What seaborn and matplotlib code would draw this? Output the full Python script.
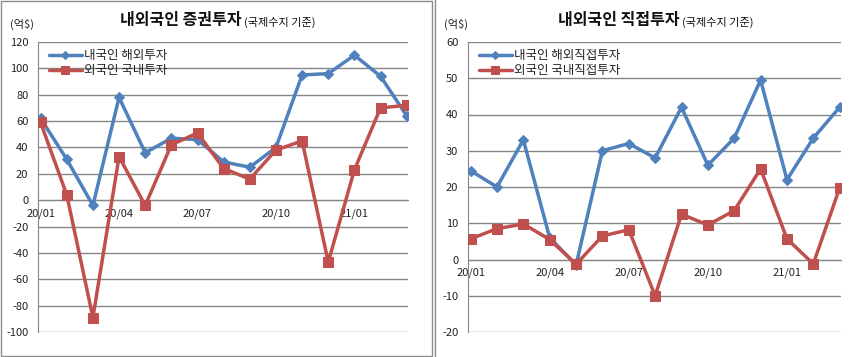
import seaborn as sns
import numpy as np
import matplotlib.pyplot as plt
from matplotlib.lines import Line2D
from matplotlib.patches import Rectangle

# 데이터 (억$)
months = ['20/01', '20/02', '20/03', '20/04', '20/05', '20/06', '20/07', '20/08',
          '20/09', '20/10', '20/11', '20/12', '21/01', '21/02', '21/03']
tick_labels = ['20/01', '20/04', '20/07', '20/10', '21/01']

sec_out = [62, 31, -4, 78, 36, 47, 46, 29, 25, 40, 95, 96, 110, 94, 64]    # 내국인 해외투자
sec_in = [59, 4, -89, 33, -4, 42, 51, 24, 16, 38, 45, -47, 23, 70, 72]     # 외국인 국내투자
fdi_out = [24.5, 20, 33, 6, -1.5, 30, 32, 28, 42, 26, 33.5, 49.5, 22, 33.5, 42]  # 내국인 해외직접투자
fdi_in = [5.7, 8.5, 9.8, 5.5, -1.3, 6.5, 8.2, -10, 12.5, 9.5, 13.5, 25, 5.7, -1.2, 19.8]  # 외국인 국내직접투자

sns.set_style('white')
plt.rcParams['font.family'] = ['Noto Sans CJK KR', 'DejaVu Sans']
plt.rcParams['axes.unicode_minus'] = False

BLUE = '#4F81BD'
RED = '#C0504D'
GRID = '#868686'

fig = plt.figure(figsize=(8.67, 3.57), dpi=100)
W, H = 867, 357


def px(x0, y0, x1, y1):
    return [x0 / W, 1 - y1 / H, (x1 - x0) / W, (y1 - y0) / H]


def draw(ax, out, inn, lab_out, lab_in, ylim, step):
    x = np.arange(len(months))
    sns.lineplot(x=x, y=out, ax=ax, color=BLUE, lw=2.5, marker='D', markersize=5,
                 markeredgecolor=BLUE, label=lab_out, zorder=3)
    sns.lineplot(x=x, y=inn, ax=ax, color=RED, lw=2.5, marker='s', markersize=7,
                 markeredgecolor=RED, label=lab_in, zorder=4)
    ax.set_xlim(-0.1, 14.05)
    ax.set_ylim(*ylim)
    ax.set_yticks(np.arange(ylim[0], ylim[1] + 1, step))
    ax.set_xticks([months.index(t) for t in tick_labels])
    ax.set_xticklabels(tick_labels)
    ax.yaxis.grid(True, color=GRID, lw=1)
    ax.set_axisbelow(True)
    for s in ['top', 'right']:
        ax.spines[s].set_visible(False)
    ax.spines['left'].set_color(GRID)
    ax.spines['bottom'].set_color(GRID)
    ax.spines['bottom'].set_position(('data', 0))
    ax.tick_params(axis='both', direction='out', length=4, color=GRID,
                   labelsize=8, labelcolor='#222222', pad=2)
    ax.tick_params(axis='y', pad=3)
    ax.set_xlabel('')
    ax.set_ylabel('')
    leg = ax.legend(loc='upper left', bbox_to_anchor=(0.01, 1.0), frameon=False,
                    fontsize=9, handlelength=2.6, handletextpad=0.15, markerscale=0.8,
                    labelspacing=0.15, borderaxespad=0.2)
    for t in leg.get_texts():
        t.set_color('#222222')


ax1 = fig.add_axes(px(38, 42, 408, 332))
draw(ax1, sec_out, sec_in, '내국인 해외투자', '외국인 국내투자', (-100, 120), 20)
ax2 = fig.add_axes(px(468, 42, 841, 332))
draw(ax2, fdi_out, fdi_in, '내국인 해외직접투자', '외국인 국내직접투자', (-20, 60), 10)


def title(x_left, main):
    t = fig.text(x_left / W, 1 - 20 / H, main, fontsize=11.5, fontweight='bold',
                 va='center', ha='left', color='#111111')
    r = fig.canvas.get_renderer()
    bb = t.get_window_extent(renderer=r)
    fig.text(bb.x1 / W + 2 / W, 1 - 22 / H, '(국제수지 기준)', fontsize=8,
             va='center', ha='left', color='#111111')


# 제목
title(120, '내외국인 증권투자')
title(558, '내외국인 직접투자')
fig.text(10 / W, 1 - 24 / H, '(억$)', fontsize=8, va='center', ha='left', color='#222222')
fig.text(444 / W, 1 - 24 / H, '(억$)', fontsize=8, va='center', ha='left', color='#222222')

# 패널 테두리
fig.add_artist(Rectangle((1 / W, 1 / H), 431 / W, (H - 2) / H, transform=fig.transFigure,
                         fill=False, edgecolor='#8C8C8C', lw=1))
fig.add_artist(Line2D([435 / W, 435 / W], [0, 1], transform=fig.transFigure,
                      color='#8C8C8C', lw=1))

plt.savefig('out.png', dpi=100)
